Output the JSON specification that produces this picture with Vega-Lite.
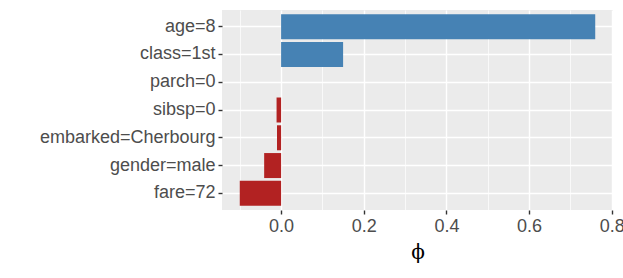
{
  "$schema": "https://vega.github.io/schema/vega-lite/v6.json",
  "autosize": "none",
  "width": 391,
  "height": 200,
  "padding": {"left": 222, "top": 10, "right": 10, "bottom": 68},
  "background": "white",
  "config": {
    "view": {"fill": "#EBEBEB", "stroke": null},
    "font": "Liberation Sans"
  },
  "data": {
    "values": [
      {"feature": "age=8", "phi": 0.76, "sign": "pos"},
      {"feature": "class=1st", "phi": 0.15, "sign": "pos"},
      {"feature": "parch=0", "phi": 0.0, "sign": "pos"},
      {"feature": "sibsp=0", "phi": -0.011, "sign": "neg"},
      {"feature": "embarked=Cherbourg", "phi": -0.010, "sign": "neg"},
      {"feature": "gender=male", "phi": -0.041, "sign": "neg"},
      {"feature": "fare=72", "phi": -0.1, "sign": "neg"}
    ]
  },
  "encoding": {
    "y": {
      "field": "feature",
      "type": "nominal",
      "sort": null,
      "scale": {"paddingInner": 0.1, "paddingOuter": 0.15},
      "axis": {
        "title": null,
        "grid": true,
        "gridColor": "white",
        "gridWidth": 1.4,
        "bandPosition": 0.5,
        "domain": false,
        "ticks": true,
        "tickColor": "#333333",
        "tickSize": 4,
        "tickWidth": 1.4,
        "labelFont": "Liberation Sans",
        "labelFontSize": 18,
        "labelColor": "#4D4D4D",
        "labelPadding": 3
      }
    }
  },
  "layer": [
    {
      "mark": {"type": "bar"},
      "encoding": {
        "x": {
          "field": "phi",
          "type": "quantitative",
          "scale": {"domain": [-0.143, 0.803], "nice": false, "zero": false},
          "axis": {
            "orient": "bottom",
            "values": [0, 0.2, 0.4, 0.6, 0.8],
            "format": ".1f",
            "grid": true,
            "gridColor": "white",
            "gridWidth": 1.4,
            "domain": false,
            "ticks": true,
            "tickColor": "#333333",
            "tickSize": 4,
            "tickWidth": 1.4,
            "labelFont": "Liberation Sans",
            "labelFontSize": 18,
            "labelColor": "#4D4D4D",
            "labelPadding": 3,
            "labelFlush": false,
            "labelOverlap": false,
            "title": "ϕ",
            "titleFont": "DejaVu Serif",
            "titleFontSize": 20,
            "titleFontWeight": "normal",
            "titleColor": "black",
            "titlePadding": 7
          }
        },
        "color": {
          "field": "sign",
          "type": "nominal",
          "scale": {"domain": ["pos", "neg"], "range": ["#4682B4", "#B22222"]},
          "legend": null
        }
      }
    },
    {
      "mark": {"type": "bar", "opacity": 0},
      "encoding": {
        "x": {
          "field": "phi",
          "type": "quantitative",
          "axis": {
            "orient": "top",
            "values": [-0.1, 0.1, 0.3, 0.5, 0.7],
            "grid": true,
            "gridColor": "white",
            "gridWidth": 0.7,
            "domain": false,
            "ticks": false,
            "labels": false,
            "title": null
          }
        }
      }
    }
  ],
  "resolve": {"axis": {"x": "independent"}}
}
